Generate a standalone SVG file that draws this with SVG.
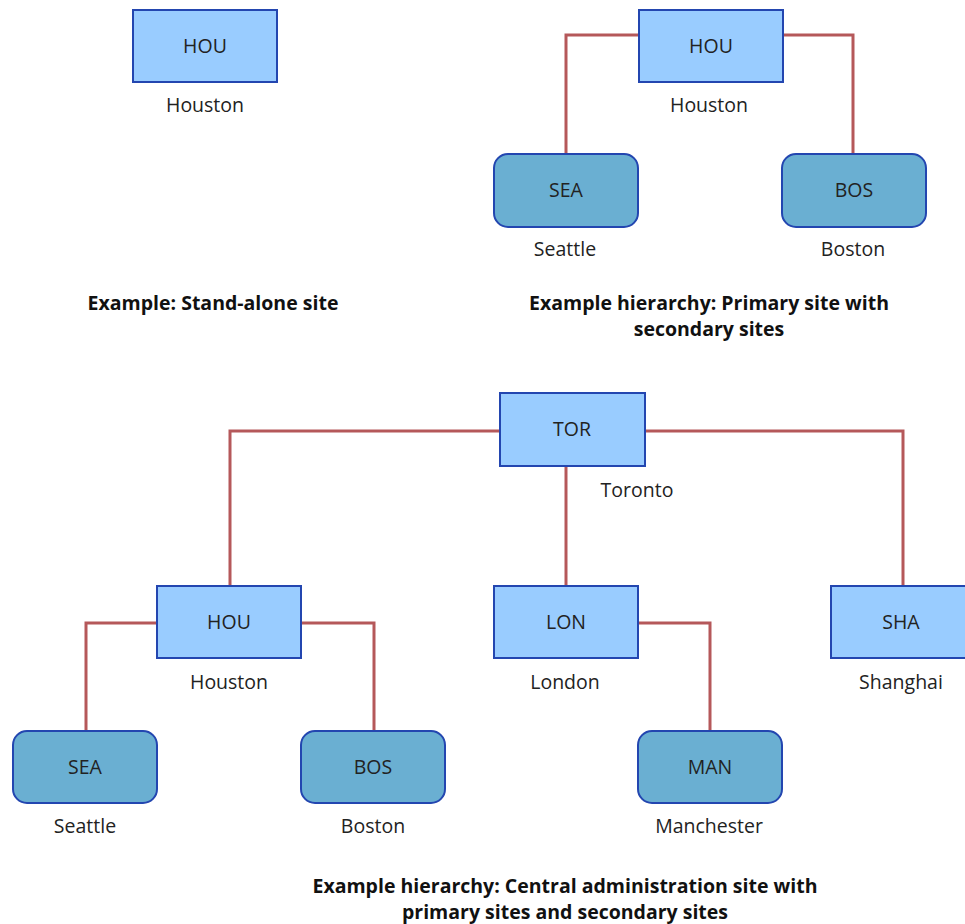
<svg xmlns="http://www.w3.org/2000/svg" width="965" height="924" viewBox="0 0 965 924">
<style>
.p{fill:#99ccff;stroke:#2346b0;stroke-width:2}
.s{fill:#6aafd2;stroke:#2346b0;stroke-width:2}
.c{fill:none;stroke:#b5585a;stroke-width:3}
.t{font-family:"Open Sans","Noto Sans",sans-serif;font-size:19.5px;fill:#222;text-anchor:middle}
.b{font-family:"Open Sans","Noto Sans",sans-serif;font-size:19.5px;font-weight:bold;fill:#111;text-anchor:middle}
</style>
<rect width="965" height="924" fill="#fff"/>
<g id="connectors">
<polyline class="c" points="639,35 566,35 566,154"/>
<polyline class="c" points="783,35 853,35 853,154"/>
<polyline class="c" points="500,431 230,431 230,586"/>
<polyline class="c" points="645,431 903,431 903,586"/>
<line class="c" x1="566" y1="466" x2="566" y2="586"/>
<polyline class="c" points="157,623 86,623 86,731"/>
<polyline class="c" points="301,623 374,623 374,731"/>
<polyline class="c" points="638,623 710,623 710,731"/>
</g>
<g id="hou1"><rect class="p" x="133" y="10" width="144" height="72"/><text class="t" x="205" y="53">HOU</text><text class="t" x="205" y="112">Houston</text></g>
<g id="hou2"><rect class="p" x="639" y="10" width="144" height="72"/><text class="t" x="711" y="53">HOU</text><text class="t" x="709" y="112">Houston</text></g>
<g id="sea2"><rect class="s" x="494" y="154" width="144" height="73" rx="14"/><text class="t" x="566" y="197">SEA</text><text class="t" x="565" y="256">Seattle</text></g>
<g id="bos2"><rect class="s" x="782" y="154" width="144" height="73" rx="14"/><text class="t" x="854" y="197">BOS</text><text class="t" x="853" y="256">Boston</text></g>
<g id="tor"><rect class="p" x="500" y="393" width="145" height="73"/><text class="t" x="572" y="436">TOR</text><text class="t" x="637" y="497">Toronto</text></g>
<g id="hou3"><rect class="p" x="157" y="586" width="144" height="72"/><text class="t" x="229" y="629">HOU</text><text class="t" x="229" y="689">Houston</text></g>
<g id="lon"><rect class="p" x="494" y="586" width="144" height="72"/><text class="t" x="566" y="629">LON</text><text class="t" x="565" y="689">London</text></g>
<g id="sha"><rect class="p" x="831" y="586" width="144" height="72"/><text class="t" x="901" y="629">SHA</text><text class="t" x="901" y="689">Shanghai</text></g>
<g id="sea3"><rect class="s" x="13" y="731" width="144" height="72" rx="14"/><text class="t" x="85" y="774">SEA</text><text class="t" x="85" y="833">Seattle</text></g>
<g id="bos3"><rect class="s" x="301" y="731" width="144" height="72" rx="14"/><text class="t" x="373" y="774">BOS</text><text class="t" x="373" y="833">Boston</text></g>
<g id="man"><rect class="s" x="638" y="731" width="144" height="72" rx="14"/><text class="t" x="710" y="774">MAN</text><text class="t" x="709" y="833">Manchester</text></g>
<g id="titles">
<text class="b" x="213" y="310">Example: Stand-alone site</text>
<text class="b" x="709" y="310">Example hierarchy: Primary site with</text>
<text class="b" x="709" y="336">secondary sites</text>
<text class="b" x="565" y="893">Example hierarchy: Central administration site with</text>
<text class="b" x="565" y="919">primary sites and secondary sites</text>
</g>
</svg>
